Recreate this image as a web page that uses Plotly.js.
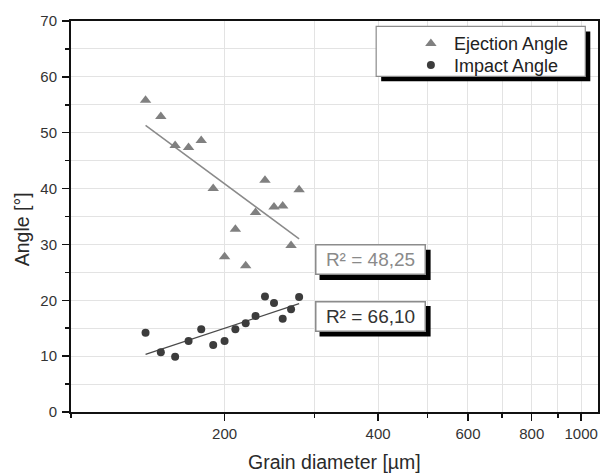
<!DOCTYPE html>
<html>
<head>
<meta charset="utf-8">
<script src="https://cdn.plot.ly/plotly-3.0.1.min.js"></script>
<style>
html,body{margin:0;padding:0;background:#fff;}
#chart{width:603px;height:475px;}
</style>
</head>
<body>
<div id="chart"></div>
<script>
// ---- data ----
const grainDiameter = [140,150,160,170,180,190,200,210,220,230,240,250,260,270,280];
const ejectionAngle = [55.8,52.9,47.7,47.35,48.6,40.0,27.8,32.7,26.2,35.7,41.5,36.7,36.9,29.8,39.8];
const impactAngle   = [14.2,10.7,9.9,12.7,14.8,12.0,12.7,14.8,15.9,17.2,20.7,19.5,16.7,18.4,20.6];
const fitX          = [140, 280];
const ejectionFit   = [51.3, 31.0];
const impactFit     = [10.3, 19.4];
const seriesNames   = ['Ejection Angle', 'Impact Angle'];
const r2Labels      = ['R² = 48,25', 'R² = 66,10'];
const xTickVals     = [200, 400, 600, 800, 1000];
const xTickText     = ['200', '400', '600', '800', '1000'];
const xMinorVals    = [100, 300, 500, 700, 900];

// ---- layout geometry (pixels) ----
const L = 71, R = 597.7, T = 21.3, B = 412.5;
const W = 603, H = 475;
const px = v => (v - L) / (R - L);
const py = v => (B - v) / (B - T);

const FONT = 'Liberation Sans, Arial, sans-serif';
const GREY = '#808080', DARK = '#3c3c3c';

const traces = [
  {x: fitX, y: ejectionFit, mode: 'lines', line: {color: '#8a8a8a', width: 1.5}, showlegend: false, hoverinfo: 'skip'},
  {x: fitX, y: impactFit, mode: 'lines', line: {color: '#4a4a4a', width: 1.3}, showlegend: false, hoverinfo: 'skip'},
  {x: grainDiameter, y: ejectionAngle, name: seriesNames[0], mode: 'markers', type: 'scatter', legend: 'legend',
   marker: {symbol: 'triangle-up', size: 10, color: GREY}},
  {x: grainDiameter, y: impactAngle, name: seriesNames[1], mode: 'markers', type: 'scatter', legend: 'legend2',
   marker: {symbol: 'circle', size: 8, color: DARK}}
];

const r2Boxes = [
  {cx: 369.9, cy: 260.3, text: r2Labels[0], color: '#8a8a8a'},
  {cx: 369.9, cy: 316.7, text: r2Labels[1], color: '#333'}
];
const BW = 111, BH = 30.5;

const annotations = r2Boxes.map(b => ({
  xref: 'paper', yref: 'paper', x: px(b.cx), y: py(b.cy), text: b.text,
  showarrow: false, width: BW - 4, height: BH - 4, bgcolor: '#fff', bordercolor: '#8c8c8c', borderwidth: 1.5,
  borderpad: 0.5, font: {family: FONT, size: 19, color: b.color}, xanchor: 'center', yanchor: 'middle'
})).concat([
  {xref: 'paper', yref: 'paper', x: px(334.4), y: py(463), text: 'Grain diameter [µm]', showarrow: false,
   font: {family: FONT, size: 19.5, color: '#2a2a2a'}, xanchor: 'center', yanchor: 'middle'},
  {xref: 'paper', yref: 'paper', x: px(21.7), y: py(230), text: 'Angle [°]', showarrow: false, textangle: -90,
   font: {family: FONT, size: 19.5, color: '#2a2a2a'}, xanchor: 'center', yanchor: 'middle'}
]);

const shapes = [
  // legend shadow + box
  {type: 'rect', xref: 'paper', yref: 'paper', x0: px(381), x1: px(590), y0: py(81.7), y1: py(31.7),
   fillcolor: '#000', line: {width: 0}, layer: 'above'},
  {type: 'rect', xref: 'paper', yref: 'paper', x0: px(376), x1: px(585), y0: py(76.7), y1: py(26.7),
   fillcolor: '#fff', line: {width: 1.2, color: '#8c8c8c'}, layer: 'above'}
].concat(r2Boxes.map(b => ({
  type: 'rect', xref: 'paper', yref: 'paper',
  x0: px(b.cx - BW / 2 + 5), x1: px(b.cx + BW / 2 + 5), y0: py(b.cy + BH / 2 + 5), y1: py(b.cy - BH / 2 + 5),
  fillcolor: '#000', line: {width: 0}, layer: 'above'
})));

const axisCommon = {
  showline: true, linecolor: '#111', linewidth: 2, mirror: true,
  ticks: 'outside', ticklen: 7, tickwidth: 1.5, tickcolor: '#111',
  showgrid: true, gridcolor: '#e3e3e3', gridwidth: 1, zeroline: false,
  tickfont: {family: FONT, size: 15, color: '#333'}
};

const legendCommon = {xanchor: 'left', yanchor: 'top', bgcolor: 'rgba(0,0,0,0)', borderwidth: 0,
  itemwidth: 36, font: {family: FONT, size: 18, color: '#222'}};

const layout = {
  width: W, height: H,
  margin: {l: L, r: W - R, t: T, b: H - B, pad: 0},
  paper_bgcolor: '#fff', plot_bgcolor: '#fff',
  showlegend: true,
  legend: Object.assign({}, legendCommon, {x: px(407.7), y: py(25.5)}),
  legend2: Object.assign({}, legendCommon, {x: px(407.7), y: py(47.2)}),
  xaxis: Object.assign({}, axisCommon, {
    type: 'log', range: [2, Math.log10(1079)],
    tickmode: 'array', tickvals: xTickVals, ticktext: xTickText,
    minor: {tickmode: 'array', tickvals: xMinorVals, ticks: 'outside', ticklen: 4, tickwidth: 1.5, tickcolor: '#111',
            showgrid: true, gridcolor: '#e3e3e3', gridwidth: 1}
  }),
  yaxis: Object.assign({}, axisCommon, {
    range: [0, 70], tickmode: 'linear', tick0: 0, dtick: 10, ticklabelstandoff: 2,
    minor: {dtick: 5, ticks: 'outside', ticklen: 4, tickwidth: 1.5, tickcolor: '#111',
            showgrid: true, gridcolor: '#e3e3e3', gridwidth: 1}
  }),
  annotations: annotations,
  shapes: shapes
};

Plotly.newPlot('chart', traces, layout, {displayModeBar: false, staticPlot: true});
</script>
</body>
</html>
